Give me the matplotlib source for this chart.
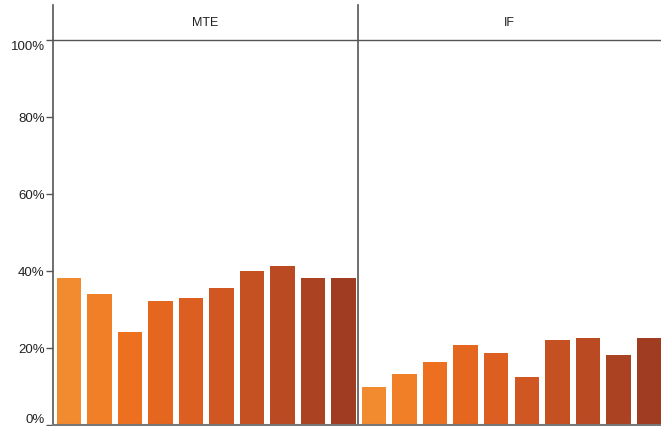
import matplotlib.pyplot as plt
from matplotlib.ticker import FuncFormatter

plt.rcParams['font.family'] = ['Liberation Sans', 'DejaVu Sans']

panels = ["MTE", "IF"]
mte_vals = [38.2, 34.0, 24.2, 32.2, 33.0, 35.6, 40.0, 41.3, 38.2, 38.2]
if_vals = [9.9, 13.2, 16.4, 20.8, 18.7, 12.5, 22.1, 22.6, 18.2, 22.6]
colors = ["#F28A2F", "#F07F27", "#EC7020", "#E4661F", "#DC5E21",
          "#D05722", "#C55021", "#B94A21", "#AB4322", "#9F3C22"]
yticks = [0, 20, 40, 60, 80, 100]

W, H = 661, 427
fig = plt.figure(figsize=(W / 100, H / 100), dpi=100)

top_px, zero_px, full_px = 6, 426, 41
ymax = 100 * (zero_px - top_px) / (zero_px - full_px)

boxes = [(53, 358, -0.525, 9.475), (358, 661, -0.52, 9.39)]
axes = []
for k, (name, vals) in enumerate(zip(panels, [mte_vals, if_vals])):
    x0, x1, lo, hi = boxes[k]
    ax = fig.add_axes([x0 / W, (H - zero_px) / H, (x1 - x0) / W, (zero_px - top_px) / H])
    ax.bar(range(len(vals)), vals, width=0.8, color=colors)
    ax.set_xlim(lo, hi)
    ax.set_ylim(0, ymax)
    ax.axhline(100, color="#555555", lw=1.0, clip_on=False)
    ax.text((lo + hi) / 2, (100 + ymax) / 2, name, ha="center", va="center",
            fontsize=9, color="#222222")
    for s in ["top", "right"]:
        ax.spines[s].set_visible(False)
    ax.spines["left"].set_color("#555555")
    ax.spines["left"].set_linewidth(1.2)
    ax.spines["bottom"].set_color("#777777")
    ax.spines["bottom"].set_linewidth(1.5)
    ax.set_xticks([])
    if k == 0:
        ax.set_yticks(yticks)
        ax.yaxis.set_major_formatter(FuncFormatter(lambda v, p: f"{v:.0f}%"))
        ax.tick_params(axis="y", length=5, width=1, color="#555555",
                       labelsize=9.5, labelcolor="#222222", pad=1)
        labels = ax.get_yticklabels()
        labels[0].set_verticalalignment("bottom")
        labels[-1].set_verticalalignment("top")
    else:
        ax.set_yticks([])
    axes.append(ax)

fig.savefig("out.png", dpi=100)
